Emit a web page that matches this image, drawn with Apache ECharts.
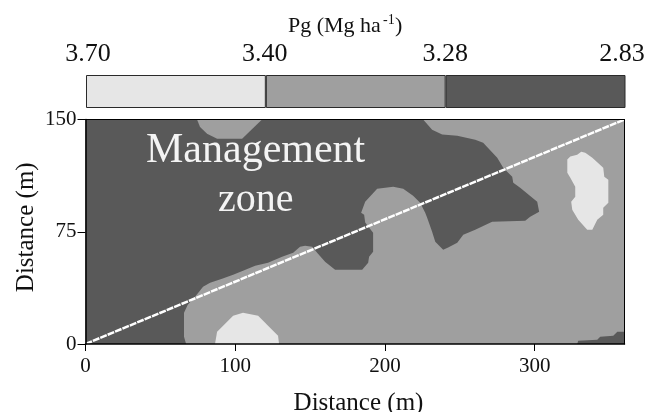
<!DOCTYPE html>
<html><head><meta charset="utf-8">
<style>html,body{margin:0;padding:0;background:#fff}#c{width:646px;height:412px}</style>
<script src="https://cdn.jsdelivr.net/npm/echarts@6/dist/echarts.min.js"></script>
</head><body><div id="c"></div>
<script>
const legendLabels = ['3.70','3.40','3.28','2.83'];
const legendBand = [1,1,1];
const xTicks = [0,100,200,300];
const yTicks = [0,75,150];
const transect = [[0,0],[360,150]];
const darkZone = [[67.2,0],[65.8,4.9],[65.8,20.9],[68.3,26.3],[73.2,31.6],[78.5,38.3],[83.2,41],[91.2,43.6],[98.6,46.3],[105.2,49],[113.3,52.3],[121.9,54.3],[131.3,58.3],[138.7,61],[143.3,65],[146.7,65.7],[151.4,65],[154.7,61],[160,55],[166.7,49.6],[184.8,49.6],[188.8,54.3],[189.4,58.3],[192.1,61.7],[192.1,74.4],[186.8,81.1],[186.1,86.4],[184.1,87.7],[186.8,95.1],[194.8,103.8],[201.5,104.5],[205.5,105.1],[212.2,103.8],[218.8,99.1],[223.5,94.4],[226.9,87.7],[228.2,84.4],[231.5,75],[233.6,68.4],[238.9,63],[242.2,64.4],[248.3,67.7],[252.3,73],[260.3,76.4],[271.6,81.7],[293.7,82.4],[297,85.1],[303,88.4],[301.7,95.1],[290.3,104.4],[285.7,107.8],[285,111.8],[279,117.8],[275,124.5],[265.6,134.5],[260.3,136.5],[248.3,139.2],[238.2,139.9],[231.5,143.2],[225.5,150],[0,150],[0,0]];
const darkCorner = [[328.4,0],[329.1,2.2],[341.8,2.9],[343.8,4.9],[352.5,5.5],[355.2,8.2],[360,8.2],[360,0]];
const midTop = [[74.5,150],[76.5,145],[81.2,140.5],[87.9,137.2],[104.6,137.2],[117.9,150]];
const lightBottom = [[86.5,0],[87.9,8.2],[98.6,18.9],[105.2,20.9],[115.3,18.9],[128.6,5.5],[129.3,0]];
const lightRight = [[321.8,123.2],[323.8,125.2],[328.4,126.5],[331.1,128.5],[333.8,127.8],[338.5,124.5],[345.8,117.8],[346.5,111.8],[349.2,109.8],[349.2,94.4],[345.8,91.1],[345.8,86.4],[341.8,83.1],[338.5,76.4],[335.1,76.4],[329.1,83.1],[325.1,89.7],[324.4,95.1],[327.1,98.4],[327.1,105.1],[323.8,111.1],[321.8,114.5]];
const midBase = [[0,0],[360,0],[360,150],[0,150]];

const LIGHT='#e6e6e6', MID='#9f9f9f', DARK='#595959', FONT='"Liberation Serif","Times New Roman",serif';
function region(pts, fill){
  return {type:'custom', xAxisIndex:0, yAxisIndex:0, data:pts, encode:{x:0,y:1}, silent:true, clip:true, z:2,
    renderItem(p, api){
      if(p.dataIndex!==0) return null;
      return {type:'polygon', shape:{points:pts.map(q=>api.coord(q))}, style:{fill}};
    }};
}
function band(i, fill){
  return {type:'bar', xAxisIndex:2, yAxisIndex:2, stack:'k', barWidth:'100%', silent:true,
    data:[legendBand[i]], itemStyle:{color:fill, borderColor:'#2a2a2a', borderWidth:1}};
}
const lbl = p => ({fontSize:26, color:'#111', fontFamily:FONT, padding:p});
const chart = echarts.init(document.getElementById('c'), null, {renderer:'canvas'});
chart.setOption({
  animation:false, backgroundColor:'#fff',
  textStyle:{fontFamily:FONT},
  grid:[
    {left:85.5, top:119.5, width:539, height:224.5, outerBoundsMode:'none', containLabel:false},
    {left:86, top:75, width:539.5, height:33, outerBoundsMode:'none', containLabel:false}
  ],
  xAxis:[
    {type:'value', gridIndex:0, min:0, max:360, position:'bottom', z:5,
     name:'Distance (m)', nameLocation:'middle', nameGap:47, nameMoveOverlap:false,
     nameTextStyle:{fontSize:25, color:'#111', fontFamily:FONT, padding:[0,0,0,7]},
     axisLine:{show:true, lineStyle:{color:'#000', width:1.5}},
     axisTick:{show:true, length:7, inside:false, customValues:xTicks, lineStyle:{color:'#000'}},
     axisLabel:{customValues:xTicks, fontSize:21, color:'#111', margin:12, fontFamily:FONT},
     splitLine:{show:false}},
    {type:'value', gridIndex:0, min:0, max:360, position:'top', z:5,
     axisLine:{show:true, onZero:false, lineStyle:{color:'#000', width:1}}, axisTick:{show:false}, axisLabel:{show:false}, splitLine:{show:false}},
    {type:'value', gridIndex:1, min:0, max:3, position:'top',
     axisLine:{show:false}, axisTick:{show:false}, splitLine:{show:false},
     axisLabel:{customValues:[0,1,2,3], formatter:v=>'{l'+v+'|'+legendLabels[v]+'}', margin:8, fontSize:26, fontFamily:FONT,
       rich:{l0:lbl([0,0,0,4]), l1:lbl([0,2,0,0]), l2:lbl([0,1,0,0]), l3:lbl([0,7,0,0])}}}
  ],
  yAxis:[
    {type:'value', gridIndex:0, min:0, max:150, position:'left', z:5,
     name:'Distance (m)', nameLocation:'middle', nameGap:47, nameMoveOverlap:false,
     nameTextStyle:{fontSize:25, color:'#111', fontFamily:FONT, padding:[0,0,0,9]},
     axisLine:{show:true, lineStyle:{color:'#000', width:1.5}},
     axisTick:{show:true, length:8, customValues:yTicks, lineStyle:{color:'#000'}},
     axisLabel:{customValues:yTicks, fontSize:21, color:'#111', margin:9, fontFamily:FONT},
     splitLine:{show:false}},
    {type:'value', gridIndex:0, min:0, max:150, position:'right', z:5,
     axisLine:{show:true, onZero:false, lineStyle:{color:'#000', width:1}}, axisTick:{show:false}, axisLabel:{show:false}, splitLine:{show:false}},
    {type:'category', gridIndex:1, data:['Pg'], show:false}
  ],
  graphic:[
    {type:'text', left:288, top:15, z:20, style:{text:'Pg (Mg ha', fontSize:22, fontFamily:FONT, fill:'#111'}},
    {type:'text', left:383, top:13, z:20, style:{text:'-1', fontSize:14, fontFamily:FONT, fill:'#111'}},
    {type:'text', left:395, top:15, z:20, style:{text:')', fontSize:22, fontFamily:FONT, fill:'#111'}},
    {type:'text', left:146, top:130, z:20, style:{text:'Management', fontSize:42, fontFamily:FONT, fill:'#f4f4f4'}},
    {type:'text', left:218, top:180, z:20, style:{text:'zone', fontSize:40, fontFamily:FONT, fill:'#f4f4f4'}}
  ],
  series:[
    region(midBase, MID),
    region(darkZone, DARK),
    region(darkCorner, DARK),
    region(midTop, MID),
    region(lightBottom, LIGHT),
    region(lightRight, LIGHT),
    {type:'line', xAxisIndex:0, yAxisIndex:0, data:transect, showSymbol:false, silent:true, z:4,
     lineStyle:{color:'#fff', width:2.5, type:[7,1]}},
    band(0, LIGHT), band(1, MID), band(2, DARK)
  ]
});
</script></body></html>
